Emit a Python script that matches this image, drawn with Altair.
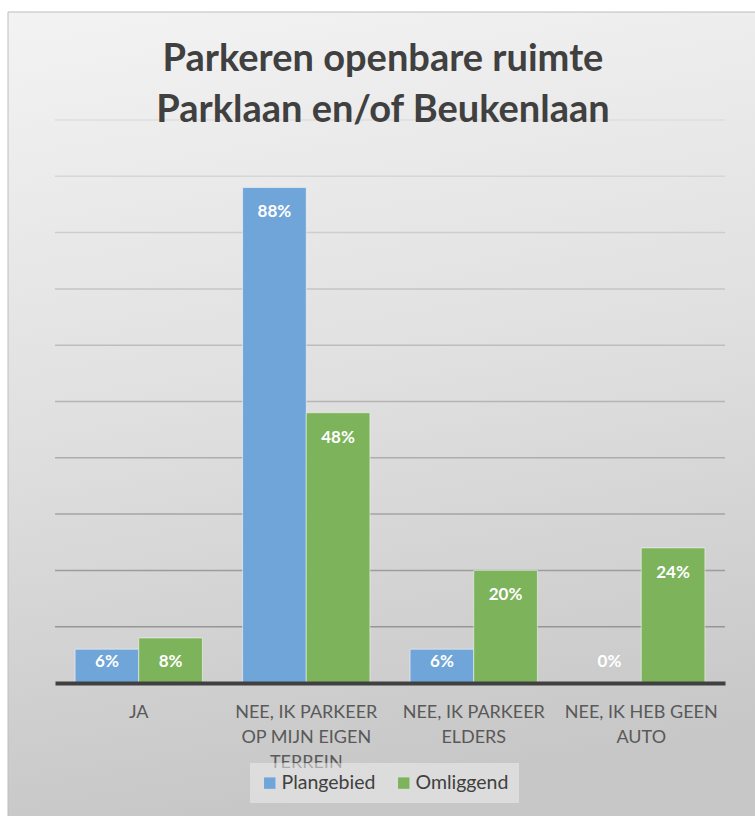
import altair as alt
import pandas as pd

# ---- data ----
categories = [
    "JA",
    "NEE, IK PARKEER|OP MIJN EIGEN|TERREIN",
    "NEE, IK PARKEER|ELDERS",
    "NEE, IK HEB GEEN|AUTO",
]
series = ["Plangebied", "Omliggend"]
plangebied = [6, 88, 6, 0]
omliggend = [8, 48, 20, 24]
grid_values = [10, 20, 30, 40, 50, 60, 70, 80, 90, 100]
title_lines = ["Parkeren openbare ruimte", "Parklaan en/of Beukenlaan"]
colors = ["#6FA5D8", "#7DB35B"]

rows = []
for c, p, o in zip(categories, plangebied, omliggend):
    rows.append({"cat": c, "serie": series[0], "v": p})
    rows.append({"cat": c, "serie": series[1], "v": o})
df = pd.DataFrame(rows)

W, H = 670, 563
FONT = "Lato"

bg = alt.Chart(alt.Data(values=[{"a": 1}])).mark_rect(
    fill={
        "gradient": "linear",
        "x1": 0, "y1": 0, "x2": 0.15, "y2": 1,
        "stops": [
            {"offset": 0, "color": "#f3f3f3"},
            {"offset": 0.5, "color": "#e0e0e0"},
            {"offset": 1, "color": "#c7c7c7"},
        ],
    },
    stroke="#bdbdbd",
    strokeWidth=1,
).encode(
    x=alt.value(-47), x2=alt.value(712), y=alt.value(-108), y2=alt.value(712)
)

yscale = alt.Scale(domain=[0, 100])

grid = alt.Chart(pd.DataFrame({"g": grid_values})).mark_rule(strokeWidth=1.5).encode(
    y=alt.Y("g:Q", scale=yscale, axis=None),
    stroke=alt.Stroke(
        "g:Q",
        scale=alt.Scale(domain=[0, 100], range=["#8e8e8e", "#dedede"]),
        legend=None,
    ),
)

base = alt.Chart(df)

xenc = alt.X(
    "cat:N",
    sort=categories,
    scale=alt.Scale(paddingInner=0.24, paddingOuter=0.12),
    axis=alt.Axis(
        title=None,
        labelExpr="split(datum.value, '|')",
        labelFontSize=18,
        labelFont=FONT,
        labelColor="#595959",
        labelLineHeight=25,
        labelPadding=20,
        labelAngle=0,
        labelLimit=300,
        ticks=False,
        grid=False,
        domainColor="#404040",
        domainWidth=4,
        zindex=1,
    ),
)
xoff = alt.XOffset("serie:N", sort=series, scale=alt.Scale(paddingInner=0, paddingOuter=0))

bars = base.mark_bar(stroke="#ffffff", strokeOpacity=0.5, strokeWidth=1).encode(
    x=xenc,
    xOffset=xoff,
    y=alt.Y("v:Q", scale=yscale, axis=None),
    color=alt.Color(
        "serie:N",
        sort=series,
        scale=alt.Scale(domain=series, range=colors),
        legend=alt.Legend(
            title=None,
            orient="none",
            legendX=195,
            legendY=643,
            direction="horizontal",
            symbolType="square",
            symbolSize=130,
            symbolStrokeWidth=0,
            labelFontSize=19.5,
            labelFont=FONT,
            labelColor="#404040",
            labelOffset=2,
            columnPadding=18,
            padding=10,
            fillColor="rgba(236,236,236,0.55)",
            zindex=2,
        ),
    ),
)

labels = base.transform_calculate(
    pos="max(datum.v - 4.4, 3.7)", lab="datum.v + '%'"
).mark_text(
    color="white", fontWeight="bold", fontSize=17, font=FONT, baseline="middle"
).encode(
    x=alt.X("cat:N", sort=categories),
    xOffset=xoff,
    y=alt.Y("pos:Q", scale=yscale, axis=None),
    text="lab:N",
)

chart = alt.layer(bg, grid, bars, labels).properties(
    width=W,
    height=H,
    autosize="none",
    padding={"left": 55, "top": 120, "right": 30, "bottom": 133},
    title=alt.Title(
        text=title_lines,
        font=FONT,
        fontSize=38,
        fontWeight="bold",
        color="#404040",
        lineHeight=51,
        anchor="middle",
        frame="group",
        baseline="alphabetic",
        offset=1,
        dx=-7,
        dy=149,
        zindex=2,
    ),
).configure_view(stroke=None).configure(background="white")

chart.save("out.html", embed_options={"renderer": "svg", "actions": False})
